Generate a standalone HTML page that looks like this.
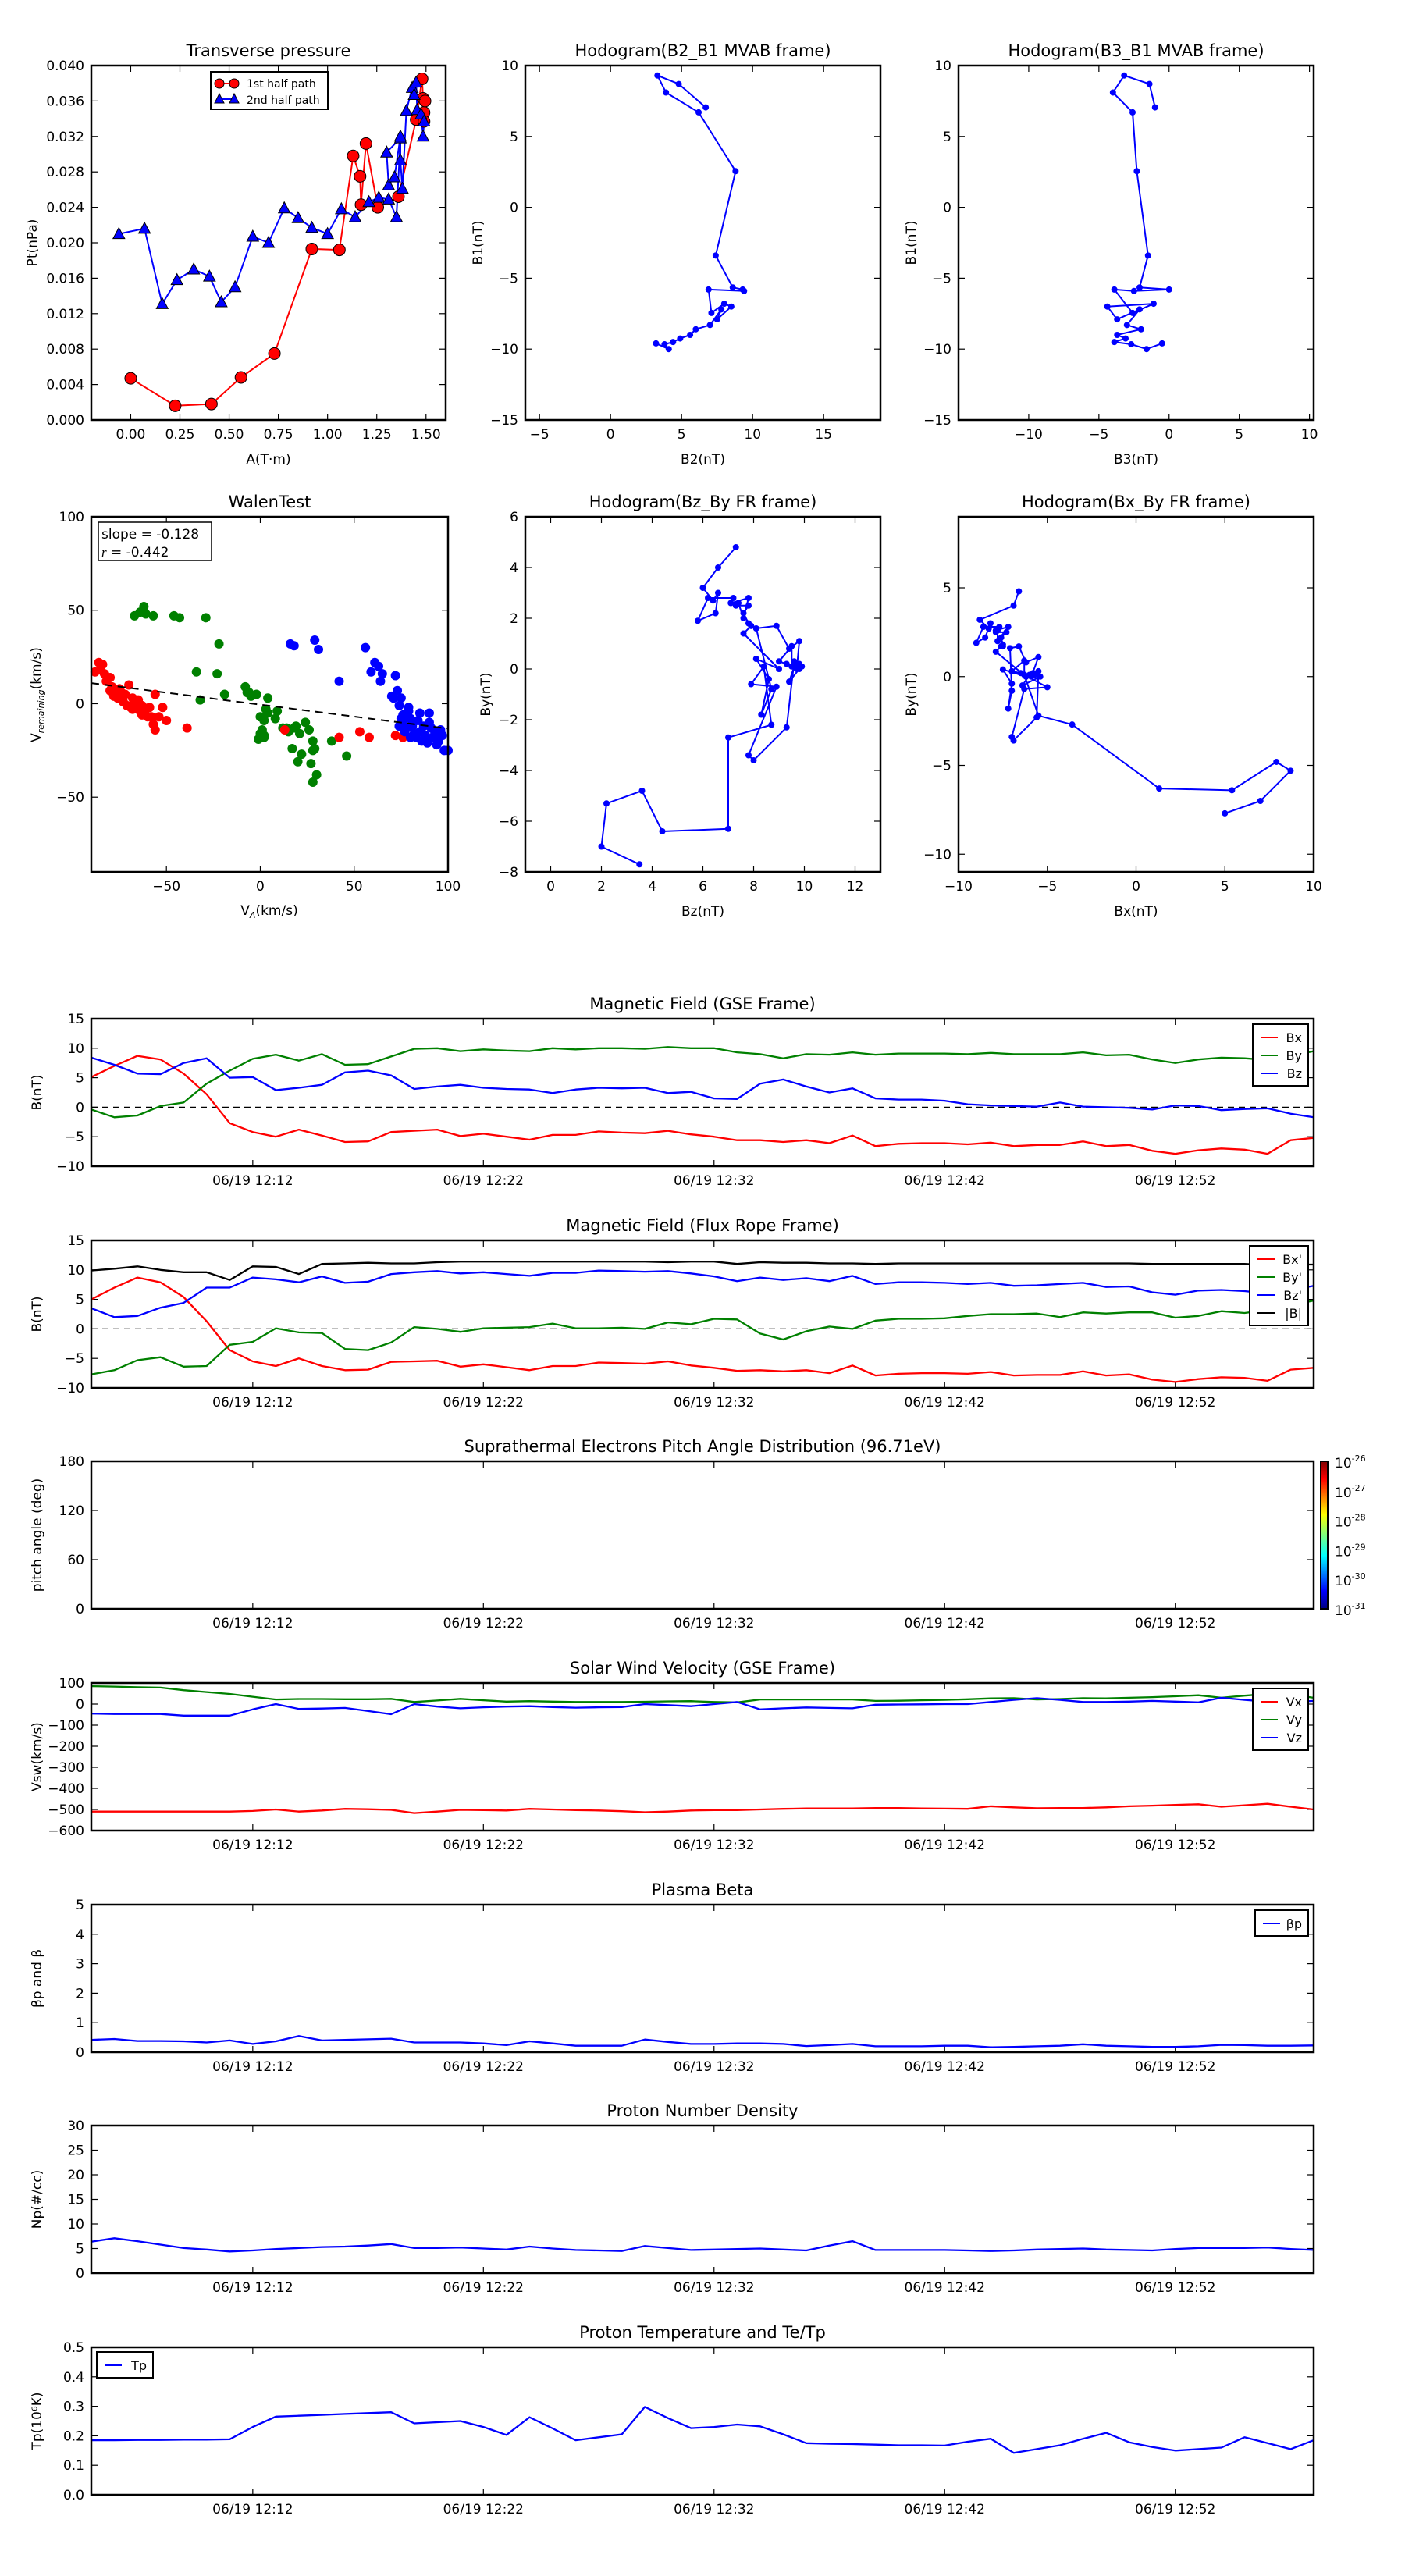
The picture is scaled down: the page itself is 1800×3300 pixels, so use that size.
<!DOCTYPE html>
<html><head><meta charset="utf-8"><style>
html,body{margin:0;padding:0;background:#fff;}
svg{display:block;font-family:"DejaVu Sans","Liberation Sans",sans-serif;}
</style></head><body>
<svg id="chart" width="1800" height="3300" viewBox="0 0 1800 3300" xmlns="http://www.w3.org/2000/svg">
<rect x="0" y="0" width="1800" height="3300" fill="#fff"/>
<defs><linearGradient id="jet" x1="0" y1="1" x2="0" y2="0">
<stop offset="0" stop-color="#00007f"/><stop offset="0.12" stop-color="#0000ff"/><stop offset="0.36" stop-color="#00ffff"/><stop offset="0.5" stop-color="#7fff7f"/><stop offset="0.64" stop-color="#ffff00"/><stop offset="0.88" stop-color="#ff0000"/><stop offset="1" stop-color="#7f0000"/></linearGradient></defs>
</svg>
<script>
// ===== data =====
const ptA1=[0,0.226,0.41,0.56,0.73,0.92,1.06,1.13,1.165,1.17,1.195,1.255,1.36,1.45,1.48,1.485,1.49,1.49,1.495];
const ptP1=[0.0047,0.0016,0.0018,0.0048,0.0075,0.0193,0.0192,0.0298,0.0275,0.0243,0.0312,0.0240,0.0252,0.0339,0.0385,0.0363,0.0347,0.0337,0.0360];
const ptA2=[-0.06,0.07,0.16,0.235,0.32,0.40,0.46,0.53,0.62,0.70,0.78,0.85,0.92,1.0,1.07,1.14,1.21,1.26,1.31,1.35,1.37,1.30,1.31,1.34,1.37,1.37,1.38,1.40,1.43,1.44,1.45,1.455,1.475,1.485,1.49];
const ptP2=[0.0210,0.0216,0.0131,0.0158,0.0170,0.0162,0.0133,0.0150,0.0207,0.0200,0.0239,0.0228,0.0217,0.0210,0.0238,0.0229,0.0246,0.0251,0.0249,0.0229,0.0318,0.0302,0.0265,0.0274,0.0320,0.0293,0.0261,0.0349,0.0375,0.0367,0.0381,0.0350,0.0345,0.0320,0.0337];
const mvB2=[6.7,4.8,3.3,3.9,6.2,8.8,7.4,8.6,9.3,9.4,6.9,7.1,8.0,8.5,7.5,7.8,7.0,6.0,5.6,4.9,4.4,3.8,4.1,3.2];
const mvB3=[-1.0,-1.4,-3.2,-4.0,-2.6,-2.3,-1.5,-2.1,0,-2.5,-3.9,-2.6,-1.1,-4.4,-3.7,-2.1,-3.0,-2.0,-3.7,-3.1,-3.9,-2.7,-1.6,-0.5];
const mvB1=[7.05,8.7,9.3,8.1,6.7,2.55,-3.4,-5.65,-5.8,-5.9,-5.8,-7.45,-6.8,-7.0,-7.9,-7.2,-8.3,-8.6,-9.0,-9.25,-9.5,-9.66,-10.0,-9.6];
const walRedX=[-88,-86,-84,-83,-82,-80,-79,-78,-77,-76,-75,-74,-73,-72,-71,-70,-69,-68,-67,-66,-65,-64,-63,-62,-61,-60,-59,-58,-57,-56,-56,-54,-52,-50,-39,-85,-80,-74,-68,-63,13,42,53,58,72,76];
const walRedY=[17,22,21,16,12,14,9,4,7,3,8,6,1,5,-1,10,-2,3,0,-2,2,-4,-1,-5,-3,-7,-2,-7,-11,5,-14,-7,-2,-9,-13,18,7,3,-3,-6,-14,-18,-15,-18,-17,-18];
const walGreenX=[-67,-64,-62,-61,-57,-46,-43,-29,-22,-34,-23,-19,-32,-8,-6,-5,-2,0,2,3,1,4,-1,0,2,8,9,12,14,15,17,18,19,20,21,22,24,26,27,28,28,29,28,30,38,46,-7,4,2];
const walGreenY=[47,49,52,48,47,47,46,46,32,17,16,5,2,9,6,4,5,-7,-9,-3,-14,3,-19,-16,-18,-8,-4,-13,-13,-15,-24,-13,-12,-31,-16,-27,-10,-14,-32,-20,-25,-24,-42,-38,-20,-28,6,-5,-17];
const walBlueX=[16,18,29,31,42,56,59,61,63,64,65,70,71,72,73,74,75,76,76,78,79,80,81,82,83,84,85,86,87,88,89,90,91,92,93,94,95,96,97,98,100,74,77,80,85,79,90,75];
const walBlueY=[32,31,34,29,12,30,17,22,20,12,16,4,3,15,7,-1,3,-6,-10,-13,-4,-8,-12,-16,-18,-9,-15,-20,-12,-17,-21,-10,-13,-18,-16,-22,-20,-14,-17,-25,-25,-12,-15,-18,-5,-2,-5,-8];
const walSlope=-0.128, walIntercept=-0.5;
const timeTicks=['06/19 12:12','06/19 12:22','06/19 12:32','06/19 12:42','06/19 12:52'];
const timeTickIdx=[7,17,27,37,47];
const gseBx=[5.1,7.0,8.7,8.1,5.7,2.2,-2.7,-4.2,-5.0,-3.8,-4.8,-5.9,-5.8,-4.2,-4.0,-3.8,-4.9,-4.5,-5.0,-5.5,-4.7,-4.7,-4.1,-4.3,-4.4,-4.0,-4.6,-5.0,-5.6,-5.6,-5.9,-5.6,-6.1,-4.8,-6.6,-6.2,-6.1,-6.1,-6.3,-6.0,-6.6,-6.4,-6.4,-5.8,-6.6,-6.4,-7.4,-7.9,-7.3,-7.0,-7.2,-7.9,-5.6,-5.2];
const gseBy=[-0.4,-1.7,-1.4,0.2,0.8,4.0,6.2,8.2,8.9,7.9,9.0,7.2,7.3,8.6,9.9,10.0,9.5,9.8,9.6,9.5,10.0,9.8,10.0,10.0,9.9,10.2,10.0,10.0,9.3,9.0,8.3,9.0,8.9,9.3,8.9,9.1,9.1,9.1,9.0,9.2,9.0,9.0,9.0,9.3,8.8,8.9,8.1,7.5,8.1,8.4,8.3,8.0,8.7,9.5];
const gseBz=[8.4,7.2,5.7,5.6,7.5,8.3,5.0,5.1,2.9,3.3,3.8,5.9,6.2,5.4,3.1,3.5,3.8,3.3,3.1,3.0,2.4,3.0,3.3,3.2,3.3,2.4,2.6,1.5,1.4,4.0,4.7,3.5,2.5,3.2,1.5,1.3,1.3,1.1,0.5,0.3,0.2,0.1,0.8,0.1,0,-0.1,-0.4,0.3,0.2,-0.5,-0.3,-0.2,-1.1,-1.7];
const frBx=[5.0,7.0,8.7,7.9,5.4,1.3,-3.6,-5.5,-6.3,-5.0,-6.3,-7.0,-6.9,-5.6,-5.5,-5.4,-6.4,-6.0,-6.5,-7.0,-6.3,-6.3,-5.7,-5.8,-5.9,-5.5,-6.2,-6.6,-7.1,-7.0,-7.2,-7.0,-7.5,-6.2,-7.9,-7.6,-7.5,-7.5,-7.6,-7.3,-7.9,-7.8,-7.8,-7.2,-7.9,-7.7,-8.6,-9.0,-8.5,-8.2,-8.3,-8.8,-6.9,-6.6];
const frBy=[-7.7,-7.0,-5.3,-4.8,-6.4,-6.3,-2.7,-2.2,0.1,-0.6,-0.7,-3.4,-3.6,-2.3,0.3,0.0,-0.5,0.1,0.2,0.3,0.9,0.1,0.1,0.2,0.0,1.1,0.8,1.7,1.6,-0.8,-1.8,-0.4,0.4,0.0,1.4,1.7,1.7,1.8,2.2,2.5,2.5,2.6,2.0,2.8,2.6,2.8,2.8,1.9,2.2,3.0,2.7,3.2,4.0,4.8];
const frBz=[3.5,2.0,2.2,3.6,4.4,7.0,7.0,8.7,8.4,7.9,8.9,7.8,8.0,9.3,9.6,9.8,9.4,9.6,9.3,9.0,9.5,9.5,9.9,9.8,9.7,9.8,9.4,8.9,8.1,8.7,8.3,8.6,8.1,9.0,7.6,7.9,7.9,7.8,7.6,7.8,7.3,7.4,7.6,7.8,7.1,7.2,6.2,5.8,6.5,6.6,6.4,6.0,6.6,7.3];
const frBt=[9.9,10.2,10.6,10.0,9.6,9.6,8.3,10.6,10.5,9.3,11.0,11.1,11.2,11.1,11.1,11.3,11.4,11.4,11.4,11.4,11.4,11.4,11.4,11.4,11.4,11.3,11.4,11.4,11.0,11.3,11.2,11.2,11.1,11.1,11.0,11.1,11.1,11.1,11.1,11.1,11.1,11.1,11.1,11.1,11.1,11.1,11.0,11.0,11.0,11.0,11.0,10.8,10.9,10.9];
const vx=[-510,-510,-510,-510,-510,-510,-510,-507,-500,-510,-505,-497,-499,-502,-517,-510,-502,-503,-505,-497,-500,-503,-505,-508,-513,-510,-505,-503,-503,-500,-497,-495,-495,-495,-493,-493,-495,-496,-497,-485,-490,-494,-493,-493,-490,-485,-482,-478,-475,-487,-480,-473,-487,-500];
const vy=[85,83,80,78,66,57,48,35,22,24,24,23,23,25,10,17,25,18,12,14,12,10,10,10,11,13,14,10,8,22,22,22,22,22,15,16,18,20,23,27,28,22,24,28,27,30,33,37,42,30,40,48,45,30];
const vz=[-45,-47,-47,-47,-55,-55,-55,-25,0,-23,-21,-18,-33,-48,0,-12,-20,-15,-12,-10,-14,-17,-15,-14,0,-5,-10,0,10,-25,-20,-16,-18,-20,-3,-2,-1,0,0,10,20,28,20,10,10,12,15,12,8,30,20,12,10,15];
const beta=[0.42,0.45,0.38,0.38,0.37,0.33,0.40,0.28,0.37,0.55,0.40,0.42,0.44,0.46,0.33,0.33,0.33,0.30,0.24,0.37,0.30,0.22,0.22,0.22,0.43,0.35,0.28,0.28,0.30,0.30,0.28,0.21,0.24,0.28,0.20,0.20,0.20,0.22,0.22,0.17,0.18,0.20,0.22,0.27,0.22,0.20,0.18,0.18,0.20,0.25,0.24,0.22,0.22,0.23];
const np=[6.4,7.1,6.5,5.8,5.1,4.8,4.4,4.6,4.9,5.1,5.3,5.4,5.6,5.9,5.1,5.1,5.2,5.0,4.8,5.4,5.0,4.7,4.6,4.5,5.5,5.1,4.7,4.8,4.9,5.0,4.8,4.6,5.6,6.5,4.7,4.7,4.7,4.7,4.6,4.5,4.6,4.8,4.9,5.0,4.8,4.7,4.6,4.9,5.1,5.1,5.1,5.2,4.9,4.7];
const tp=[0.185,0.185,0.186,0.186,0.187,0.187,0.188,0.23,0.265,0.268,0.271,0.274,0.277,0.28,0.242,0.246,0.25,0.23,0.203,0.263,0.225,0.185,0.195,0.205,0.298,0.26,0.226,0.23,0.238,0.232,0.205,0.175,0.173,0.172,0.17,0.168,0.168,0.167,0.18,0.19,0.142,0.155,0.168,0.19,0.21,0.178,0.162,0.15,0.155,0.16,0.195,0.175,0.155,0.185];
const cbLabels=['-26','-27','-28','-29','-30','-31'];

// ===== helpers =====
const NS='http://www.w3.org/2000/svg';
const svg=document.getElementById('chart');
function mk(tag,attrs,parent){const e=document.createElementNS(NS,tag);for(const k in attrs)e.setAttribute(k,attrs[k]);(parent||svg).appendChild(e);return e;}
function tx(x,y,s,attrs,parent){const e=mk('text',Object.assign({x:x,y:y,fill:'#000'},attrs||{}),parent);e.textContent=s;return e;}
function scale(d0,d1,r0,r1){return v=>r0+(v-d0)*(r1-r0)/(d1-d0);}
const FS=17;

function axes(name,L,T,R,B,xmin,xmax,ymin,ymax,xt,xtl,yt,ytl,title,xlabel,ylabel){
  const g=mk('g',{});
  
  
  const sx=scale(xmin,xmax,L,R), sy=scale(ymin,ymax,B,T);
  xt.forEach((v,i)=>{
    const x=sx(v);
    const t1=mk('line',{x1:x,y1:B,x2:x,y2:B-8,stroke:'#000','stroke-width':1.2},g);
    
    
    const t2=mk('line',{x1:x,y1:T,x2:x,y2:T+8,stroke:'#000','stroke-width':1.2},g);
    
    
    const l=tx(x,B+24,xtl[i],{'font-size':FS,'text-anchor':'middle'},g);
    
    
  });
  yt.forEach((v,i)=>{
    const y=sy(v);
    const t1=mk('line',{x1:L,y1:y,x2:L+8,y2:y,stroke:'#000','stroke-width':1.2},g);
    
    
    const t2=mk('line',{x1:R,y1:y,x2:R-8,y2:y,stroke:'#000','stroke-width':1.2},g);
    
    
    const l=tx(L-9,y+6,ytl[i],{'font-size':FS,'text-anchor':'end'},g);
    
    
  });
  if(title){const t=tx((L+R)/2,T-12,title,{'font-size':21,'text-anchor':'middle'},g);
    
    }
  if(xlabel){const t=tx((L+R)/2,B+56,xlabel,{'font-size':FS,'text-anchor':'middle'},g);
    
    }
  if(ylabel){const yl=L-(ylabel.off||62);const t=tx(yl,(T+B)/2,ylabel.s,{'font-size':FS,'text-anchor':'middle',transform:`rotate(-90 ${yl} ${(T+B)/2})`},g);
    
    }
  return {g,sx,sy,L,T,R,B};
}
function frame(a){const r=mk('rect',{x:a.L,y:a.T,width:a.R-a.L,height:a.B-a.T,fill:'none',stroke:'#000','stroke-width':2.5},a.g);
  
  }
function line(a,xs,ys,color,w,name,dash){
  const pts=xs.map((x,i)=>a.sx(x).toFixed(1)+','+a.sy(ys[i]).toFixed(1)).join(' ');
  const p=mk('polyline',{points:pts,fill:'none',stroke:color,'stroke-width':w,'stroke-linejoin':'round'},a.g);
  if(dash)p.setAttribute('stroke-dasharray',dash);
  
  
  return p;
}
function dots(a,xs,ys,color,r,name){
  xs.forEach((x,i)=>{const c=mk('circle',{cx:a.sx(x),cy:a.sy(ys[i]),r:r,fill:color},a.g);
    
    });
}
function rng(a,b,s){const o=[];for(let v=a;v<=b+1e-9;v+=s)o.push(+v.toFixed(6));return o;}
function lab(arr,d){return arr.map(v=>v<0?'\u2212'+Math.abs(v).toFixed(d):v.toFixed(d));}

// ===== Transverse pressure =====
(function(){
  const xt=rng(0,1.5,0.25), yt=rng(0,0.04,0.004);
  const a=axes('transverse-pressure-chart',117,84,571,538,-0.2,1.6,0,0.04,xt,lab(xt,2),yt,lab(yt,3),'Transverse pressure','A(T\u00b7m)',{s:'Pt(nPa)',off:70});
  line(a,ptA1,ptP1,'#f00',2,'first-half-path-line');
  line(a,ptA2,ptP2,'#00f',2,'second-half-path-line');
  ptA1.forEach((x,i)=>{const c=mk('circle',{cx:a.sx(x),cy:a.sy(ptP1[i]),r:7.5,fill:'#f00',stroke:'#000','stroke-width':1},a.g);
    
    });
  ptA2.forEach((x,i)=>{const X=a.sx(x),Y=a.sy(ptP2[i]);const t=mk('polygon',{points:`${X},${Y-8} ${X-7.5},${Y+6} ${X+7.5},${Y+6}`,fill:'#00f',stroke:'#000','stroke-width':1},a.g);
    
    });
  frame(a);
  const lg=mk('g',{},a.g);
  
  
  mk('rect',{x:270,y:92,width:150,height:48,fill:'#fff',stroke:'#000','stroke-width':2},lg);
  mk('line',{x1:281,y1:107,x2:300,y2:107,stroke:'#f00','stroke-width':2},lg);
  mk('circle',{cx:281,cy:107,r:6,fill:'#f00',stroke:'#000'},lg);mk('circle',{cx:300,cy:107,r:6,fill:'#f00',stroke:'#000'},lg);
  const e1=tx(316,112,'1st half path',{'font-size':14},lg);
  
  
  mk('line',{x1:281,y1:127,x2:300,y2:127,stroke:'#00f','stroke-width':2},lg);
  mk('polygon',{points:'281,120 275,132 287,132',fill:'#00f',stroke:'#000'},lg);mk('polygon',{points:'300,120 294,132 306,132',fill:'#00f',stroke:'#000'},lg);
  const e2=tx(316,133,'2nd half path',{'font-size':14},lg);
  
  
})();

// ===== Hodogram B2_B1 =====
(function(){
  const xt=[-5,0,5,10,15], yt=[-15,-10,-5,0,5,10];
  const a=axes('hodogram-b2-b1-chart',673,84,1128,538,-6,19,-15,10,xt,lab(xt,0),yt,lab(yt,0),'Hodogram(B2_B1 MVAB frame)','B2(nT)',{s:'B1(nT)',off:55});
  line(a,mvB2,mvB1,'#00f',2,'hodogram-b2-b1-line');dots(a,mvB2,mvB1,'#00f',4,'hodogram-point');frame(a);
})();
// ===== Hodogram B3_B1 =====
(function(){
  const xt=[-10,-5,0,5,10], yt=[-15,-10,-5,0,5,10];
  const a=axes('hodogram-b3-b1-chart',1228,84,1683,538,-15,10.3,-15,10,xt,lab(xt,0),yt,lab(yt,0),'Hodogram(B3_B1 MVAB frame)','B3(nT)',{s:'B1(nT)',off:55});
  line(a,mvB3,mvB1,'#00f',2,'hodogram-b3-b1-line');dots(a,mvB3,mvB1,'#00f',4,'hodogram-point');frame(a);
})();
// ===== Walen test =====
(function(){
  const xt=[-50,0,50,100], yt=[-50,0,50,100];
  const a=axes('walen-test-chart',117,662,574,1117,-90,100,-90,100,xt,lab(xt,0),yt,lab(yt,0),'WalenTest',null,null);
  const xl=tx(345,1172,'V',{'font-size':FS,'text-anchor':'middle'},a.g);
  
  
  const s1=mk('tspan',{'font-size':11,'font-style':'italic',dy:4},xl);s1.textContent='A';
  const s2=mk('tspan',{dy:-4},xl);s2.textContent='(km/s)';
  const yl=tx(52,890,'V',{'font-size':FS,'text-anchor':'middle',transform:'rotate(-90 52 890)'},a.g);
  
  
  const s3=mk('tspan',{'font-size':11,'font-style':'italic',dy:4},yl);s3.textContent='remaining';
  const s4=mk('tspan',{dy:-4},yl);s4.textContent='(km/s)';
  dots(a,walGreenX,walGreenY,'#008000',6,'walen-point-green');
  dots(a,walRedX,walRedY,'#f00',6,'walen-point-red');
  dots(a,walBlueX,walBlueY,'#00f',6,'walen-point-blue');
  const fx=[-90,100];const fy=fx.map(v=>walSlope*v+walIntercept);
  line(a,fx,fy,'#000',2,'walen-fit-line','10,7');
  frame(a);
  const b=mk('g',{},a.g);
  
  
  mk('rect',{x:126,y:669,width:145,height:49,fill:'#fff',stroke:'#000','stroke-width':1.5},b);
  tx(130,690,'slope = -0.128',{'font-size':17},b);
  const r=tx(130,713,'',{'font-size':17},b);
  const ri=mk('tspan',{'font-style':'italic','font-family':'Liberation Serif, serif'},r);ri.textContent='r';
  const rr=mk('tspan',{},r);rr.textContent=' = -0.442';
})();
// ===== Hodogram Bz_By FR =====
(function(){
  const xt=[0,2,4,6,8,10,12], yt=[-8,-6,-4,-2,0,2,4,6];
  const a=axes('hodogram-bz-by-chart',673,662,1128,1117,-1,13,-8,6,xt,lab(xt,0),yt,lab(yt,0),'Hodogram(Bz_By FR frame)','Bz(nT)',{s:'By(nT)',off:45});
  line(a,frBz,frBy,'#00f',2,'hodogram-bz-by-line');dots(a,frBz,frBy,'#00f',4,'hodogram-point');frame(a);
})();
// ===== Hodogram Bx_By FR =====
(function(){
  const xt=[-10,-5,0,5,10], yt=[-10,-5,0,5];
  const a=axes('hodogram-bx-by-chart',1228,662,1683,1117,-10,10,-11,9,xt,lab(xt,0),yt,lab(yt,0),'Hodogram(Bx_By FR frame)','Bx(nT)',{s:'By(nT)',off:55});
  line(a,frBx,frBy,'#00f',2,'hodogram-bx-by-line');dots(a,frBx,frBy,'#00f',4,'hodogram-point');frame(a);
})();

// ===== time series =====
const TL=117,TR=1683,TH=189;
const tops=[1305,1589,1872,2156,2440,2723,3007];
const N=gseBx.length;
const idx=gseBx.map((_,i)=>i);
function tsAxes(k,name,ymin,ymax,yt,ytl,title,ylabel){
  const a=axes(name,TL,tops[k],TR,tops[k]+TH,0,N-1,ymin,ymax,timeTickIdx,timeTicks,yt,ytl,title,null,{s:ylabel,off:64});
  return a;
}
function legend(a,x,y,w,entries,name){
  const lg=mk('g',{},a.g);
  
  
  mk('rect',{x:x,y:y,width:w,height:entries.length*23+10,fill:'#fff',stroke:'#000','stroke-width':2},lg);
  entries.forEach((e,i)=>{const yy=y+17+i*23;
    mk('line',{x1:x+10,y1:yy,x2:x+32,y2:yy,stroke:e[1],'stroke-width':2},lg);
    const t=tx(x+w-8,yy+6,e[0],{'font-size':16,'text-anchor':'end'},lg);
    
    });
}
function zeroLine(a){const l=mk('line',{x1:a.L,y1:a.sy(0),x2:a.R,y2:a.sy(0),stroke:'#000','stroke-width':1.2,'stroke-dasharray':'8,6'},a.g);
  
  }

(function(){
  const yt=[-10,-5,0,5,10,15];
  const a=tsAxes(0,'magnetic-field-gse-chart',-10,15,yt,lab(yt,0),'Magnetic Field (GSE Frame)','B(nT)');
  zeroLine(a);
  line(a,idx,gseBx,'#f00',2.3,'series-bx');line(a,idx,gseBy,'#008000',2.3,'series-by');line(a,idx,gseBz,'#00f',2.3,'series-bz');
  frame(a);legend(a,1605,1312,71,[['Bx','#f00'],['By','#008000'],['Bz','#00f']],'legend');
})();
(function(){
  const yt=[-10,-5,0,5,10,15];
  const a=tsAxes(1,'magnetic-field-fr-chart',-10,15,yt,lab(yt,0),'Magnetic Field (Flux Rope Frame)','B(nT)');
  zeroLine(a);
  line(a,idx,frBx,'#f00',2.3,'series-bx-prime');line(a,idx,frBy,'#008000',2.3,'series-by-prime');line(a,idx,frBz,'#00f',2.3,'series-bz-prime');line(a,idx,frBt,'#000',2.3,'series-b-total');
  frame(a);legend(a,1601,1596,75,[["Bx'",'#f00'],["By'",'#008000'],["Bz'",'#00f'],['|B|','#000']],'legend');
})();
(function(){
  const yt=[0,60,120,180];
  const a=tsAxes(2,'pitch-angle-chart',0,180,yt,lab(yt,0),'Suprathermal Electrons Pitch Angle Distribution (96.71eV)','pitch angle (deg)');
  frame(a);
  const cb=mk('g',{});
  
  
  const T=tops[2],B=T+TH;
  mk('rect',{x:1692,y:T,width:9,height:TH,fill:'url(#jet)',stroke:'#000','stroke-width':2},cb);
  cbLabels.forEach((s,i)=>{const y=T+i*TH/5;
    const t=tx(1710,y+8,'10',{'font-size':17},cb);
    
    
    const sp=mk('tspan',{'font-size':11,dy:-8},t);sp.textContent=s;});
})();
(function(){
  const yt=rng(-600,100,100);
  const a=tsAxes(3,'solar-wind-velocity-chart',-600,100,yt,lab(yt,0),'Solar Wind Velocity (GSE Frame)','Vsw(km/s)');
  line(a,idx,vx,'#f00',2.3,'series-vx');line(a,idx,vy,'#008000',2.3,'series-vy');line(a,idx,vz,'#00f',2.3,'series-vz');
  frame(a);legend(a,1605,2163,71,[['Vx','#f00'],['Vy','#008000'],['Vz','#00f']],'legend');
})();
(function(){
  const yt=[0,1,2,3,4,5];
  const a=tsAxes(4,'plasma-beta-chart',0,5,yt,lab(yt,0),'Plasma Beta','\u03b2p and \u03b2');
  line(a,idx,beta,'#00f',2.3,'series-beta-p');
  frame(a);legend(a,1608,2447,68,[['\u03b2p','#00f']],'legend');
})();
(function(){
  const yt=rng(0,30,5);
  const a=tsAxes(5,'proton-density-chart',0,30,yt,lab(yt,0),'Proton Number Density','Np(#/cc)');
  line(a,idx,np,'#00f',2.3,'series-np');frame(a);
})();
(function(){
  const yt=rng(0,0.5,0.1);
  const a=tsAxes(6,'proton-temperature-chart',0,0.5,yt,lab(yt,1),'Proton Temperature and Te/Tp','Tp(10\u2076K)');
  line(a,idx,tp,'#00f',2.3,'series-tp');
  frame(a);legend(a,124,3013,72,[['Tp','#00f']],'legend');
})();
</script>
</body></html>
